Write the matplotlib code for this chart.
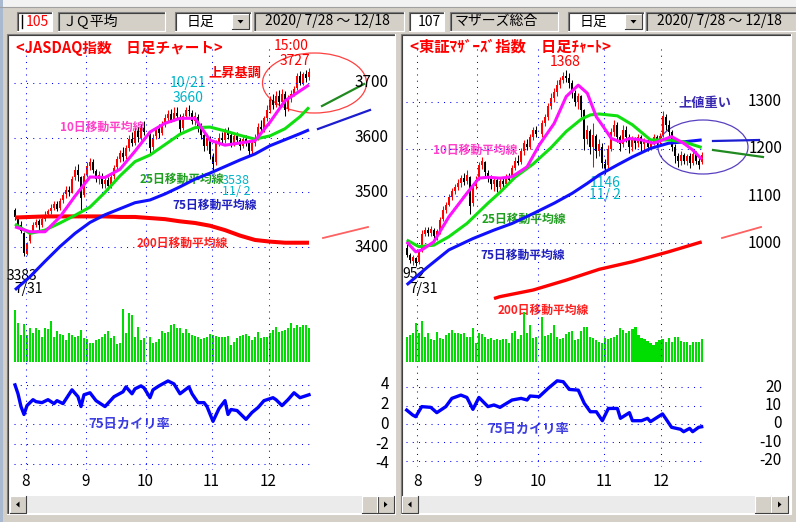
import matplotlib

matplotlib.use("Agg")

import matplotlib.pyplot as plt
import numpy as np
from matplotlib.patches import Ellipse, Polygon, Rectangle

plt.rcParams["font.family"] = ["Noto Sans CJK JP", "DejaVu Sans"]

W, H = 796, 522

# ---- values (trading day 0 = 2020/7/28, 98 = 12/18) ----

month_names = ["8", "9", "10", "11", "12"]
month_first = [4, 24, 44, 66, 85]

# JASDAQ index, day 44 (10/1) has no trading
jq_open = [3468, 3452, 3440, 3425, 3388, 3412, 3430, 3440, 3447, 3440,
           3452, 3460, 3466, 3472, 3478, 3472, 3486, 3496, 3505, 3500,
           3528, 3540, 3528, 3495, 3532, 3548, 3555, 3538, 3525, 3530,
           3515, 3522, 3512, 3530, 3546, 3560, 3572, 3566, 3580, 3598,
           3590, 3612, 3600, 3618, None, 3605, 3582, 3602, 3615, 3608,
           3625, 3636, 3642, 3634, 3645, 3638, 3618, 3640, 3650, 3645,
           3630, 3638, 3620, 3605, 3585, 3598, 3565, 3555, 3590, 3600,
           3595, 3612, 3605, 3590, 3602, 3595, 3585, 3598, 3590, 3575,
           3590, 3600, 3620, 3615, 3636, 3650, 3668, 3660, 3675, 3665,
           3680, 3652, 3672, 3680, 3690, 3712, 3700, 3715, 3710]
jq_close = [3455, 3440, 3430, 3390, 3405, 3428, 3440, 3445, 3440, 3452,
            3458, 3466, 3472, 3478, 3470, 3485, 3495, 3505, 3500, 3525,
            3540, 3532, 3490, 3530, 3548, 3555, 3540, 3525, 3532, 3515,
            3522, 3512, 3528, 3545, 3560, 3572, 3565, 3580, 3598, 3590,
            3612, 3600, 3618, 3610, None, 3580, 3600, 3615, 3608, 3625,
            3635, 3642, 3632, 3645, 3640, 3615, 3640, 3650, 3648, 3630,
            3640, 3620, 3605, 3585, 3600, 3570, 3552, 3590, 3600, 3595,
            3612, 3605, 3590, 3602, 3595, 3585, 3598, 3590, 3575, 3590,
            3600, 3620, 3615, 3635, 3650, 3668, 3660, 3675, 3665, 3680,
            3650, 3672, 3680, 3688, 3712, 3700, 3715, 3708, 3720]
jq_high = [3472, 3456, 3448, 3428, 3410, 3432, 3446, 3452, 3452, 3456,
           3465, 3470, 3478, 3484, 3484, 3490, 3500, 3512, 3512, 3530,
           3548, 3552, 3530, 3535, 3556, 3563, 3560, 3542, 3538, 3536,
           3530, 3528, 3534, 3550, 3566, 3578, 3582, 3586, 3604, 3610,
           3618, 3620, 3624, 3630, None, 3608, 3606, 3620, 3624, 3630,
           3642, 3650, 3652, 3655, 3656, 3642, 3645, 3656, 3660, 3650,
           3646, 3642, 3626, 3610, 3606, 3602, 3572, 3595, 3608, 3610,
           3618, 3620, 3610, 3608, 3610, 3600, 3605, 3604, 3595, 3596,
           3606, 3626, 3632, 3640, 3660, 3675, 3680, 3684, 3686, 3688,
           3685, 3678, 3686, 3694, 3718, 3722, 3720, 3724, 3727]
jq_low = [3450, 3435, 3425, 3383, 3386, 3408, 3425, 3436, 3432, 3436,
          3448, 3455, 3460, 3468, 3465, 3468, 3480, 3490, 3494, 3498,
          3522, 3520, 3468, 3492, 3528, 3540, 3535, 3518, 3515, 3508,
          3508, 3505, 3508, 3525, 3540, 3556, 3558, 3560, 3576, 3584,
          3586, 3592, 3596, 3605, None, 3571, 3578, 3598, 3600, 3604,
          3620, 3630, 3628, 3630, 3635, 3608, 3614, 3636, 3640, 3625,
          3622, 3610, 3598, 3575, 3578, 3560, 3538, 3550, 3585, 3588,
          3590, 3598, 3582, 3585, 3590, 3578, 3580, 3585, 3568, 3568,
          3585, 3595, 3610, 3610, 3630, 3645, 3652, 3655, 3658, 3660,
          3640, 3648, 3665, 3675, 3686, 3695, 3696, 3702, 3705]
jq_volume = [157, 117, 82, 115, 82, 102, 89, 102, 97, 75,
             102, 99, 124, 77, 95, 84, 82, 67, 87, 82,
             77, 79, 97, 72, 69, 57, 59, 67, 69, 77,
             85, 95, 72, 79, 55, 59, 160, 87, 149, 142,
             77, 105, 67, 72, None, 75, 57, 62, 69, 95,
             89, 92, 112, 114, 102, 102, 89, 99, 89, 82,
             79, 77, 69, 72, 75, 84, 82, 79, 77, 77,
             77, 79, 52, 62, 72, 79, 82, 84, 79, 67,
             77, 90, 72, 75, 77, 87, 97, 105, 92, 95,
             97, 104, 117, 102, 112, 107, 112, 112, 102]
jq_ma_days = [0, 5, 10, 15, 20, 25, 30, 35, 40, 45, 50,
              55, 60, 65, 70, 75, 80, 85, 90, 95, 98]
jq_ma10 = [3437, 3428, 3428, 3455, 3493, 3528, 3527, 3542, 3575, 3610, 3626,
           3635, 3635, 3595, 3586, 3590, 3594, 3628, 3667, 3685, 3696]
jq_ma25 = [3442, 3425, 3431, 3444, 3458, 3473, 3500, 3530, 3556, 3568, 3587,
           3606, 3618, 3619, 3612, 3604, 3597, 3603, 3616, 3638, 3655]
jq_ma75 = [3322, 3346, 3374, 3401, 3425, 3445, 3459, 3470, 3481, 3486, 3497,
           3510, 3524, 3535, 3547, 3559, 3570, 3585, 3596, 3607, 3614]
jq_ma200 = [3454, 3455, 3456, 3456, 3456, 3456, 3456, 3455, 3455, 3453, 3451,
            3447, 3444, 3439, 3431, 3421, 3413, 3410, 3408, 3408, 3408]
jq_kairi_days = [0, 1, 2, 3, 4, 6, 7, 9, 11, 13, 14, 16, 19, 21, 22, 23, 25, 27, 28,
                 30, 33, 36, 37, 39, 40, 42, 43, 45, 46, 48, 51, 53, 55, 58, 59, 61,
                 63, 64, 66, 68, 70, 71, 72, 74, 76, 77, 79, 81, 83, 86, 87, 89, 91,
                 93, 95, 97, 98]
jq_kairi = [4.0, 3.1, 1.8, 1.0, 1.9, 2.5, 2.3, 2.2, 2.5, 2.1, 2.4, 2.1, 3.5, 2.8, 1.8,
            3.0, 3.2, 2.4, 2.2, 1.8, 2.8, 3.3, 3.8, 3.1, 3.6, 3.9, 3.7, 2.7, 3.5, 3.9,
            4.4, 4.1, 3.1, 3.8, 3.1, 2.2, 2.2, 1.8, 0.3, 1.6, 2.4, 1.0, 1.5, 1.4, 0.8,
            0.5, 1.2, 1.7, 2.4, 2.7, 2.5, 1.9, 2.5, 3.2, 2.7, 2.9, 3.0]

# TSE Mothers index
mz_open = [990, 975, 962, 968, 960, 985, 1020, 1028, 1022, 1028,
           1015, 1025, 1052, 1070, 1082, 1098, 1110, 1120, 1128, 1138,
           1132, 1140, 1085, 1122, 1138, 1165, 1172, 1150, 1140, 1125,
           1135, 1120, 1132, 1125, 1140, 1138, 1160, 1175, 1172, 1195,
           1210, 1205, 1225, 1240, None, 1232, 1255, 1268, 1290, 1308,
           1320, 1335, 1346, 1355, 1350, 1340, 1318, 1300, 1312, 1282,
           1222, 1238, 1205, 1228, 1195, 1205, 1168, 1165, 1200, 1235,
           1250, 1225, 1210, 1240, 1225, 1205, 1220, 1212, 1225, 1210,
           1218, 1205, 1215, 1225, 1215, 1230, 1268, 1250, 1235, 1205,
           1185, 1175, 1188, 1175, 1185, 1170, 1190, 1175, 1172]
mz_close = [975, 965, 970, 958, 982, 1020, 1028, 1022, 1030, 1015,
            1025, 1050, 1070, 1082, 1098, 1110, 1120, 1128, 1138, 1130,
            1145, 1080, 1120, 1135, 1165, 1175, 1150, 1140, 1125, 1135,
            1120, 1132, 1125, 1140, 1135, 1160, 1175, 1170, 1195, 1212,
            1205, 1225, 1240, 1232, None, 1255, 1268, 1290, 1308, 1320,
            1335, 1345, 1355, 1350, 1340, 1320, 1300, 1312, 1282, 1220,
            1240, 1205, 1230, 1195, 1210, 1170, 1160, 1200, 1235, 1250,
            1225, 1210, 1240, 1225, 1205, 1220, 1212, 1225, 1210, 1218,
            1205, 1215, 1225, 1215, 1228, 1270, 1250, 1235, 1205, 1185,
            1175, 1188, 1175, 1185, 1170, 1190, 1175, 1165, 1188]
mz_high = [998, 980, 975, 972, 986, 1028, 1035, 1035, 1036, 1032,
           1030, 1056, 1078, 1088, 1104, 1118, 1126, 1136, 1145, 1150,
           1155, 1142, 1126, 1142, 1172, 1183, 1175, 1155, 1145, 1140,
           1140, 1138, 1140, 1146, 1150, 1166, 1182, 1188, 1202, 1219,
           1220, 1232, 1247, 1248, None, 1262, 1275, 1298, 1318, 1330,
           1346, 1352, 1362, 1368, 1360, 1345, 1325, 1318, 1315, 1285,
           1250, 1242, 1254, 1232, 1220, 1212, 1178, 1208, 1245, 1262,
           1258, 1230, 1250, 1248, 1232, 1228, 1226, 1232, 1230, 1224,
           1222, 1222, 1232, 1230, 1234, 1280, 1275, 1262, 1240, 1210,
           1192, 1195, 1192, 1190, 1192, 1198, 1196, 1180, 1194]
mz_low = [970, 958, 955, 952, 956, 982, 1015, 1016, 1015, 1008,
          1008, 1020, 1048, 1065, 1078, 1092, 1104, 1112, 1120, 1124,
          1126, 1063, 1078, 1115, 1134, 1158, 1142, 1130, 1115, 1110,
          1108, 1114, 1118, 1120, 1128, 1134, 1155, 1165, 1168, 1188,
          1198, 1200, 1218, 1225, None, 1226, 1248, 1262, 1285, 1300,
          1312, 1328, 1340, 1342, 1330, 1308, 1290, 1285, 1268, 1198,
          1210, 1190, 1162, 1180, 1185, 1160, 1146, 1160, 1195, 1228,
          1215, 1195, 1205, 1215, 1192, 1196, 1200, 1205, 1195, 1200,
          1196, 1198, 1208, 1208, 1210, 1226, 1240, 1226, 1195, 1170,
          1162, 1165, 1168, 1165, 1160, 1165, 1168, 1158, 1168]
mz_volume = [77, 82, 87, 117, 87, 124, 77, 87, 69, 67,
             92, 74, 69, 82, 87, 97, 87, 87, 84, 89,
             77, 75, 104, 59, 87, 85, 77, 69, 72, 67,
             69, 67, 69, 69, 59, 87, 94, 69, 82, 152,
             87, 112, 72, 77, None, 137, 79, 82, 89, 112,
             77, 69, 72, 85, 92, 94, 67, 69, 94, 107,
             107, 77, 72, 67, 62, 59, 72, 69, 72, 77,
             82, 104, 97, 87, 95, 99, 105, 82, 72, 69,
             65, 59, 52, 62, 67, 69, 62, 72, 62, 77,
             77, 65, 62, 62, 52, 62, 62, 62, 69]
mz_ma10_days = [0, 3, 5, 9, 14, 20, 24, 27, 31, 35, 40, 44, 49, 53,
                57, 60, 63, 65, 68, 71, 74, 78, 82, 85, 88, 92, 95, 98]
mz_ma10 = [1003, 982, 986, 1003, 1056, 1106, 1138, 1140, 1138, 1141, 1162, 1208, 1254, 1311,
           1335, 1318, 1268, 1250, 1222, 1215, 1222, 1219, 1212, 1219, 1226, 1212, 1198, 1178]
mz_ma25_days = [0, 4, 9, 14, 20, 27, 31, 36, 42, 48, 53, 58, 61, 64, 70, 75, 81, 87, 92, 98]
mz_ma25 = [1007, 993, 996, 1014, 1042, 1085, 1108, 1140, 1168, 1203,
           1237, 1263, 1272, 1274, 1270, 1251, 1219, 1219, 1215, 1203]
mz_ma75_days = [0, 7, 14, 22, 29, 35, 42, 49, 55, 60, 64, 70, 75, 81, 87, 92, 98]
mz_ma75 = [912, 950, 986, 1010, 1028, 1042, 1063, 1085, 1106,
           1127, 1145, 1166, 1183, 1201, 1212, 1215, 1219]
mz_ma200_days = [29, 31, 42, 53, 64, 75, 87, 98]
mz_ma200 = [883, 887, 901, 922, 945, 961, 982, 1003]
mz_kairi_days = [0, 2, 3, 5, 8, 10, 13, 15, 18, 20, 22, 24, 27, 29, 31, 35, 38, 40, 41,
                 44, 47, 50, 52, 54, 57, 59, 61, 63, 65, 67, 70, 71, 74, 75, 78, 80, 81,
                 85, 86, 88, 91, 92, 94, 95, 97, 98]
mz_kairi = [7.6, 4.9, 4.0, 9.5, 9.1, 6.2, 9.5, 14.0, 15.8, 14.5, 8.0, 14.5, 9.5, 10.4,
            9.1, 13.1, 14.0, 13.1, 15.3, 14.9, 19.5, 23.6, 23.1, 18.9, 18.5, 11.3, 6.7,
            6.7, 1.8, 8.5, 8.5, 3.1, 6.2, 1.8, 1.8, 3.1, 1.3, 5.5, 3.1, -1.8, -2.9, -4.2,
            -2.4, -4.2, -1.8, -1.5]

jq_price_ticks = [3400, 3500, 3600, 3700]
jq_kairi_ticks = [4, 2, 0, -2, -4]
mz_price_ticks = [1000, 1100, 1200, 1300]
mz_kairi_ticks = [20, 10, 0, -10, -20]

# ---- layout, in pixels of the 796x522 picture ----

GRAY = "#d4d0c8"
GRID = dict(color="#0000ff", lw=0.75, ls=(0, (1, 5)))
NUM_FONT = ["Liberation Sans Narrow", "Noto Sans CJK JP"]

LEFT = dict(x=(8, 394), day=(0, 15.0, 3.0), price=(3700, 82.7, 0.548),
            kairi=(0, 424.3, 9.85), top=47, bottom=470, label_right=389)
RIGHT = dict(x=(402, 790), day=(0, 406.7, 3.01), price=(1300, 101.7, 0.472),
             kairi=(0, 424.0, 1.83), top=47, bottom=467, label_right=782)
VOL_TOP, VOL_BASE = 300, 362.3
VOLUME_MAP = (0, VOL_BASE, 1 / 3)


def scaled_axes(fig, box, xmap, ymap):

    # axes placed on a pixel box, with value = ref at pixel ref_px
    x0, y0, x1, y1 = box
    ax = fig.add_axes([x0 / W, 1 - y1 / H, (x1 - x0) / W, (y1 - y0) / H])
    xv, xp, xs = xmap
    yv, yp, ys = ymap
    ax.set_xlim(xv + (x0 - xp) / xs, xv + (x1 - xp) / xs)
    ax.set_ylim(yv - (y1 - yp) / ys, yv - (y0 - yp) / ys)
    ax.axis("off")
    return ax


def sunken(bg, x0, y0, x1, y1, face):

    bg.add_patch(Rectangle((x0, y0), x1 - x0, y1 - y0, facecolor=face, edgecolor="none"))
    bg.plot([x0, x0, x1], [y1, y0, y0], color="#808080", lw=0.8)
    bg.plot([x0 + 1, x0 + 1, x1 - 1], [y1 - 1, y0 + 1, y0 + 1], color="#404040", lw=0.8)
    bg.plot([x0, x1, x1], [y1, y1, y0], color="#ffffff", lw=0.8)


def raised(bg, x0, y0, x1, y1):

    bg.add_patch(Rectangle((x0, y0), x1 - x0, y1 - y0, facecolor=GRAY, edgecolor="none"))
    bg.plot([x0, x0, x1], [y1, y0, y0], color="#ffffff", lw=0.8)
    bg.plot([x0, x1, x1], [y1, y1, y0], color="#404040", lw=0.8)


def arrow(bg, cx, cy, direction):

    s = 3
    if direction == "down":
        pts = [(cx - s, cy - 1.5), (cx + s, cy - 1.5), (cx, cy + 2)]
    elif direction == "left":
        pts = [(cx + 1.5, cy - s), (cx + 1.5, cy + s), (cx - 2, cy)]
    else:
        pts = [(cx - 1.5, cy - s), (cx - 1.5, cy + s), (cx + 2, cy)]
    bg.add_patch(Polygon(pts, closed=True, facecolor="black", edgecolor="none"))


def toolbar(bg, x, code, code_color, name, name_w, combo_x, date_x):

    sunken(bg, x, 12, x + 35, 31, "white")
    bg.text(x + 32, 21.5, code, color=code_color, fontsize=10, ha="right", va="center",
            family=NUM_FONT)
    sunken(bg, x + 41, 12, x + 41 + name_w, 31, GRAY)
    bg.text(x + 46, 21.5, name, fontsize=10, ha="left", va="center")
    sunken(bg, combo_x, 12, combo_x + 76, 31, "white")
    bg.text(combo_x + 25, 21.5, "日足", fontsize=10, ha="center", va="center")
    raised(bg, combo_x + 57, 14, combo_x + 74, 29)
    arrow(bg, combo_x + 65.5, 21.5, "down")
    sunken(bg, date_x, 12, date_x + 150, 31, GRAY)
    bg.text(date_x + 11, 21.5, "2020/ 7/28 〜 12/18", fontsize=10, ha="left", va="center",
            family=NUM_FONT)


def scrollbar(bg, x0, x1, thumb):

    y0, y1 = 496, 513
    bg.add_patch(Rectangle((x0, y0), x1 - x0, y1 - y0, facecolor="#ebebeb", edgecolor="none"))
    raised(bg, x0, y0, x0 + 16, y1)
    arrow(bg, x0 + 8, (y0 + y1) / 2, "left")
    raised(bg, thumb, y0, thumb + 16, y1)
    raised(bg, x1 - 17, y0, x1, y1)
    arrow(bg, x1 - 8.5, (y0 + y1) / 2, "right")


def chrome(bg):

    bg.add_patch(Rectangle((0, 0), W, 7, facecolor="#f2f2f2", edgecolor="none"))
    bg.plot([0, W], [7, 7], color="#a0a0a0", lw=0.8)
    bg.add_patch(Rectangle((0, 0), 3, H, facecolor="#a9bad0", edgecolor="none"))

    toolbar(bg, 17, "105", "#ff0000", "ＪＱ平均", 107, 175, 254)
    bg.plot([22, 22], [15, 28], color="black", lw=1)
    toolbar(bg, 409, "107", "#000000", "マザーズ総合", 108, 568, 646)

    for x0, x1 in [LEFT["x"], RIGHT["x"]]:
        sunken(bg, x0 - 1, 34, x1 + 1, 514, "white")

    scrollbar(bg, 10, 394, 362)
    scrollbar(bg, 402, 788, 755)


def candles(ax, o, h, l, c):

    o, h, l, c = (np.array(v, dtype=float) for v in (o, h, l, c))
    days = np.arange(len(c))
    ok = ~np.isnan(c)
    colors = np.where(c >= o, "#ff0000", "#000000")
    ax.vlines(days[ok], l[ok], h[ok], colors=colors[ok], lw=0.75)
    ax.bar(days[ok], (c - o)[ok], bottom=o[ok], width=0.66, color=colors[ok], lw=0)


def panel(fig, spec, data):

    x0, x1 = spec["x"]
    price = scaled_axes(fig, (x0, spec["top"], x1, VOL_TOP), spec["day"], spec["price"])
    vol = scaled_axes(fig, (x0, VOL_TOP, x1, VOL_BASE), spec["day"], VOLUME_MAP)
    kai = scaled_axes(fig, (x0, VOL_BASE, x1, spec["bottom"]), spec["day"], spec["kairi"])

    n = len(data["close"])
    for ax in (price, vol, kai):
        for d in month_first:
            ax.axvline(d - 0.5, **GRID)
    price.hlines(data["price_ticks"], -0.3, n - 0.7, **GRID)
    kai.hlines(data["kairi_ticks"], -0.3, n - 0.7, **GRID)

    candles(price, data["open"], data["high"], data["low"], data["close"])
    for days, values, color, lw in data["mas"]:
        price.plot(days, values, color=color, lw=lw, solid_capstyle="butt", zorder=4)

    v = np.array(data["volume"], dtype=float)
    ok = ~np.isnan(v)
    vol.bar(np.arange(n)[ok], v[ok], width=0.7, color="#00dd00", lw=0)

    kai.plot(data["kairi_days"], data["kairi"], color="#0000ff", lw=2.4)

    frac = (spec["label_right"] - x0) / (x1 - x0)
    for t in data["price_ticks"]:
        price.text(frac, t, str(t), transform=price.get_yaxis_transform(),
                   ha="right", va="center", fontsize=11, family=NUM_FONT)
    for t in data["kairi_ticks"]:
        kai.text(frac, t, str(t), transform=kai.get_yaxis_transform(),
                 ha="right", va="center", fontsize=11, family=NUM_FONT)
    below = (spec["bottom"] - 481) / (spec["bottom"] - VOL_BASE)
    for d, name in zip(month_first, month_names):
        kai.text(d - 0.5, below, name, transform=kai.get_xaxis_transform(),
                 ha="center", va="center", fontsize=11, family=NUM_FONT)


def label(bg, x, y, s, color, size=8.5, bold=True, ha="left", num=False, spacing=1.2):

    bg.text(x, y, s, color=color, fontsize=size, ha=ha, va="center",
            fontweight="bold" if bold else "normal", linespacing=spacing,
            multialignment="center", family=NUM_FONT if num else None)


fig = plt.figure(figsize=(W / 100, H / 100), dpi=100, facecolor=GRAY)
bg = fig.add_axes([0, 0, 1, 1])
bg.set_xlim(0, W)
bg.set_ylim(H, 0)
bg.axis("off")
chrome(bg)

panel(fig, LEFT, dict(
    open=jq_open, high=jq_high, low=jq_low, close=jq_close, volume=jq_volume,
    mas=[(jq_ma_days, jq_ma200, "#ff0000", 2.9), (jq_ma_days, jq_ma75, "#1010ff", 2.2),
         (jq_ma_days, jq_ma25, "#10e010", 2.2), (jq_ma_days, jq_ma10, "#ff10ff", 2.2)],
    kairi_days=jq_kairi_days, kairi=jq_kairi,
    price_ticks=jq_price_ticks, kairi_ticks=jq_kairi_ticks))

panel(fig, RIGHT, dict(
    open=mz_open, high=mz_high, low=mz_low, close=mz_close, volume=mz_volume,
    mas=[(mz_ma200_days, mz_ma200, "#ff0000", 2.4), (mz_ma75_days, mz_ma75, "#1010ff", 2.2),
         (mz_ma25_days, mz_ma25, "#10e010", 2.2), (mz_ma10_days, mz_ma10, "#ff10ff", 2.2)],
    kairi_days=mz_kairi_days, kairi=mz_kairi,
    price_ticks=mz_price_ticks, kairi_ticks=mz_kairi_ticks))

# ---- annotations (left: JASDAQ) ----
RED, CYAN = "#ff0000", "#00b4c8"
label(bg, 16, 48, "<JASDAQ指数　日足チャート>", RED, size=10.5)
label(bg, 291, 46, "15:00", RED, size=10, bold=False, ha="center", num=True)
label(bg, 295, 61, str(max(h for h in jq_high if h)), RED, size=10, bold=False, ha="center", num=True)
label(bg, 208, 73, "上昇基調", RED, size=9.5)
label(bg, 188, 83, "10/21", CYAN, size=10, bold=False, ha="center", num=True)
label(bg, 188, 98, "3660", CYAN, size=10, bold=False, ha="center", num=True)
label(bg, 60, 127, "10日移動平均線", "#ff40c8")
label(bg, 140, 179, "25日移動平均線", "#20a020")
label(bg, 236, 186, f"{jq_low[66]}\n11/ 2", CYAN, size=9, bold=False, ha="center",
      num=True, spacing=0.8)
label(bg, 172, 205, "75日移動平均線", "#2020c0")
label(bg, 137, 243, "200日移動平均線", "#ff2020")
label(bg, 22, 276, str(jq_low[3]), "black", size=10, bold=False, ha="center", num=True)
label(bg, 29, 289, "7/31", "black", size=10, bold=False, ha="center", num=True)
label(bg, 88, 424, "75日カイリ率", "#4040e0", size=9.5)
bg.add_patch(Ellipse((314.5, 83), 104, 60, fill=False, edgecolor="#ff4040", lw=0.9))
bg.plot([322, 364], [106, 84], color="#208a20", lw=1.6)
bg.plot([318, 370], [129, 110], color="#1c1cd0", lw=1.6)
bg.plot([323, 368], [238, 227], color="#ff6060", lw=1.3)

# ---- annotations (right: Mothers) ----
label(bg, 410, 47, "<東証ﾏｻﾞｰｽﾞ指数　日足ﾁｬｰﾄ>", RED, size=11)
label(bg, 565, 62, str(max(h for h in mz_high if h)), RED, size=10, bold=False, ha="center", num=True)
label(bg, 678, 103, "上値重い", "#3a2ab0", size=9.5)
label(bg, 433, 150, "10日移動平均線", "#ff40c8")
label(bg, 605, 189, f"{mz_low[66]}\n11/ 2", CYAN, size=10, bold=False, ha="center",
      num=True, spacing=0.85)
label(bg, 482, 219, "25日移動平均線", "#20a020")
label(bg, 480, 255, "75日移動平均線", "#2020c0")
label(bg, 414, 274, str(mz_low[3]), "black", size=10, bold=False, ha="center", num=True)
label(bg, 424, 289, "7/31", "black", size=10, bold=False, ha="center", num=True)
label(bg, 498, 310, "200日移動平均線", "#ff2020")
label(bg, 487, 429, "75日カイリ率", "#4040e0", size=9.5)
bg.add_patch(Ellipse((703, 147), 90, 54, fill=False, edgecolor="#5a40c0", lw=0.9))
bg.plot([713, 759], [141, 140], color="#1c1cd0", lw=1.6)
bg.plot([713, 763], [150, 157], color="#208a20", lw=1.6)
bg.plot([722, 761], [238, 227], color="#ff6060", lw=1.3)

fig.savefig("out.png", dpi=100, facecolor=GRAY)
